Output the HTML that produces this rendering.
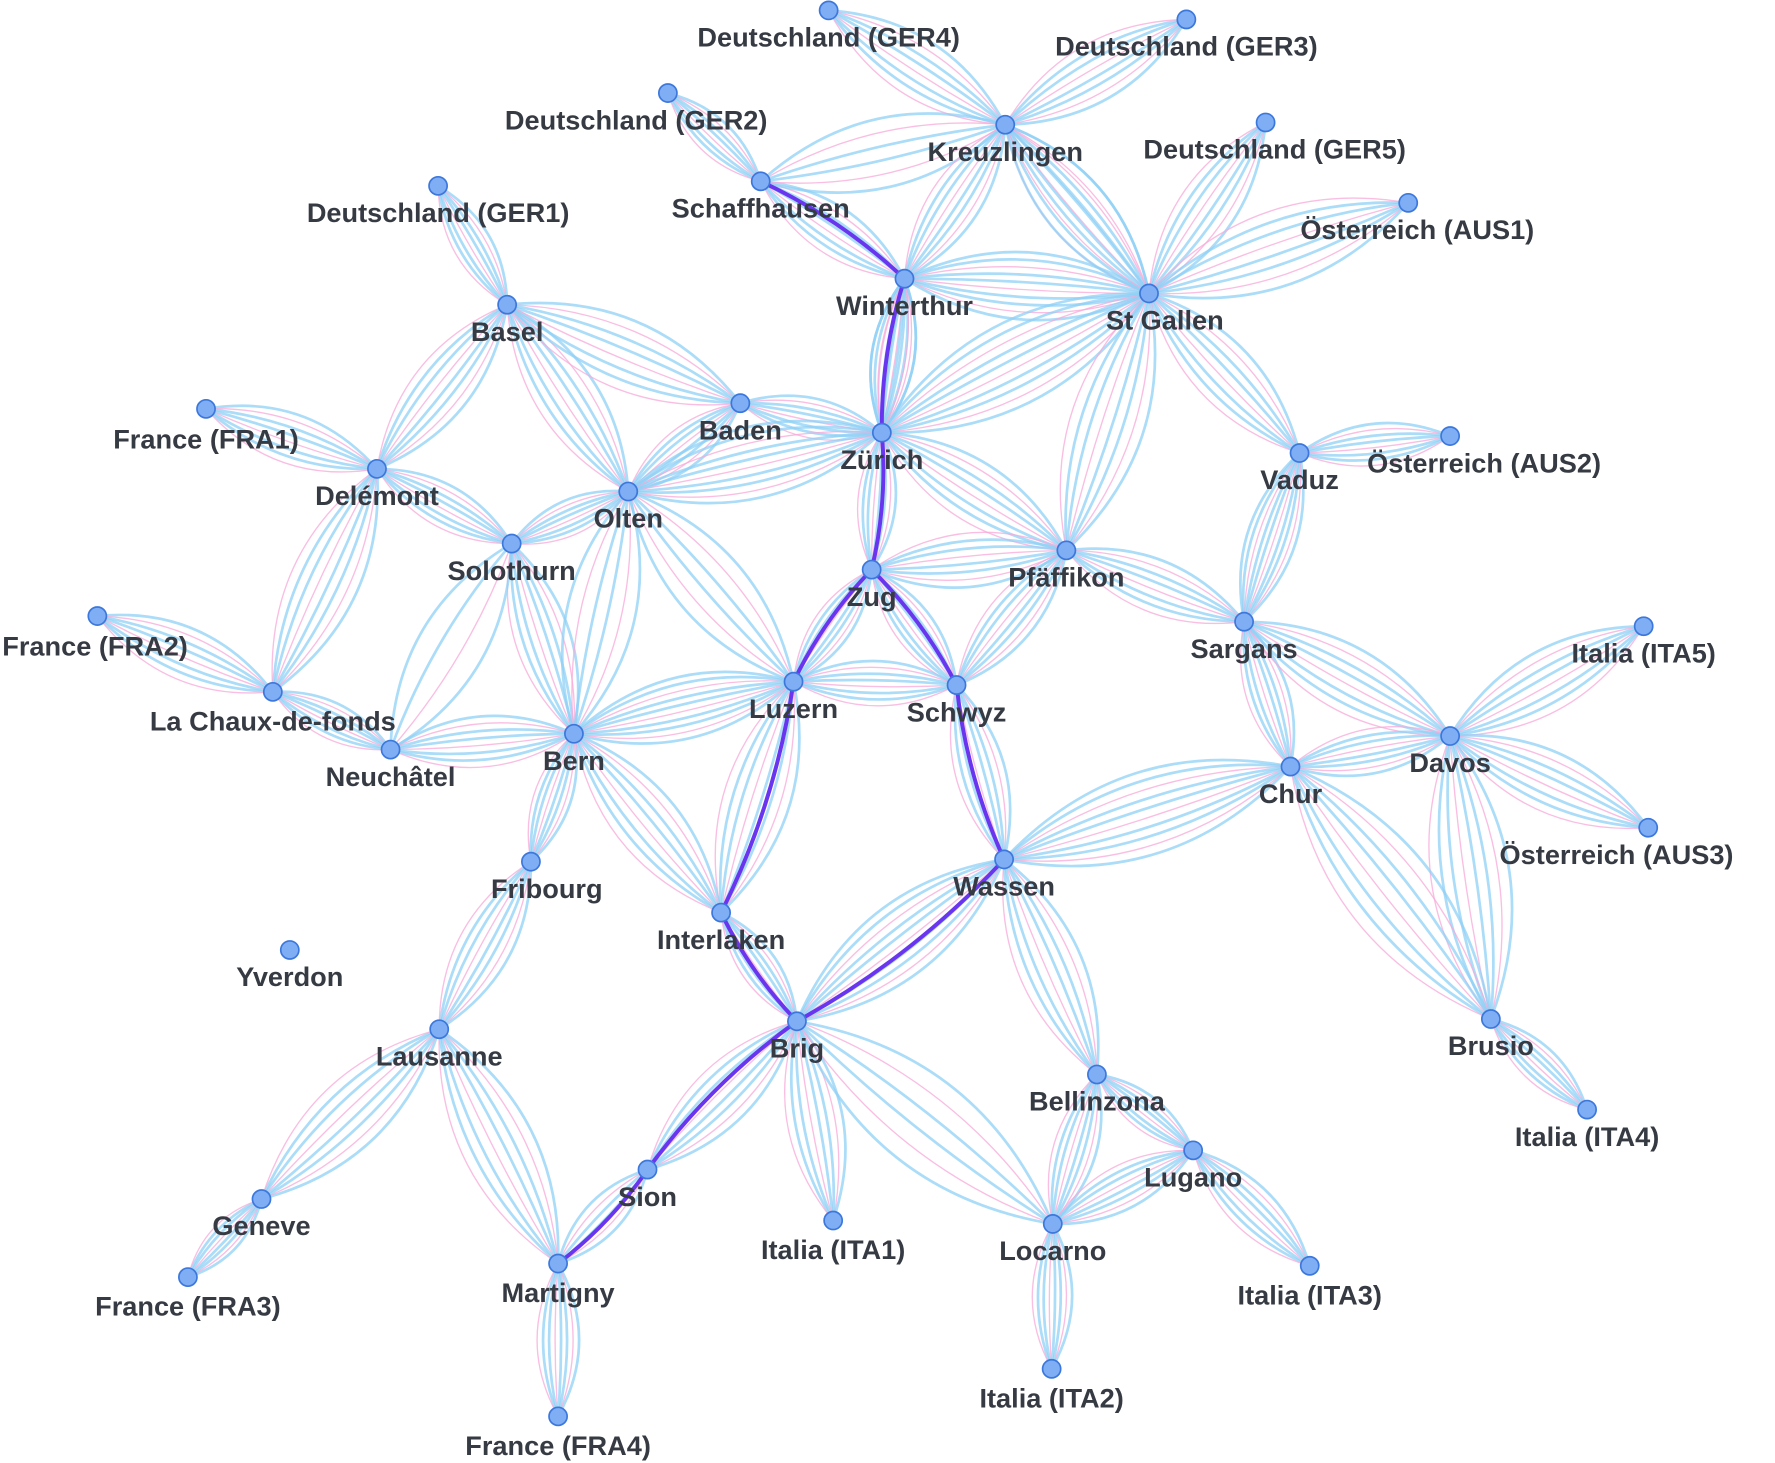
<!DOCTYPE html>
<html><head><meta charset="utf-8">
<style>
html,body{margin:0;padding:0;background:#fff;}
svg{display:block;}
text{font-family:"Liberation Sans",sans-serif;font-weight:bold;font-size:24px;fill:#363a42;}
</style></head>
<body>
<svg id="chart" width="1775" height="1463" viewBox="0 0 1568 1292" xmlns="http://www.w3.org/2000/svg">
<g id="edges"></g>
<g id="path"></g>
<g id="nodes"></g>
</svg>
<script>
const nodeNames=["Deutschland (GER4)","Deutschland (GER3)","Deutschland (GER2)","Kreuzlingen","Deutschland (GER5)","Schaffhausen","Deutschland (GER1)","Österreich (AUS1)","Winterthur","St Gallen","Basel","Baden","France (FRA1)","Zürich","Österreich (AUS2)","Vaduz","Delémont","Olten","Solothurn","Pfäffikon","Zug","France (FRA2)","Sargans","Italia (ITA5)","Luzern","Schwyz","La Chaux-de-fonds","Bern","Davos","Neuchâtel","Chur","Österreich (AUS3)","Wassen","Fribourg","Interlaken","Yverdon","Brig","Brusio","Lausanne","Bellinzona","Italia (ITA4)","Lugano","Sion","Geneve","Italia (ITA1)","Locarno","Martigny","Italia (ITA3)","France (FRA3)","Italia (ITA2)","France (FRA4)"];
const nodeX=[732,1048,590,888,1118,672,387,1244,799,1015,448,654,182,779,1281,1148,333,555,452,942,770,86,1099,1452,701,845,241,507,1281,345,1140,1456,887,469,637,256,704,1317,388,969,1402,1054,572,231,736,930,493,1157,166,929,493];
const nodeY=[9,17,82,110,108,160,164,179,246,259,269,356,361,382,385,400,414,434,480,486,503,544,549,553,602,605,611,648,650,662,677,731,759,761,806,839,902,900,909,949,980,1016,1033,1059,1078,1081,1116,1118,1128,1209,1251];
const labelDX=[0,0,-28,0,8,0,0,8,0,14,0,0,0,0,30,0,0,0,0,0,0,-6,0,0,0,0,0,0,0,0,0,-28,0,14,0,0,0,0,0,0,0,0,0,0,0,0,0,0,0,0,0];
const labelDY=[32,32,32,32,32,32,32,32,32,32,32,32,35,32,32,32,32,32,32,32,32,35,32,32,32,32,34,32,32,32,32,32,32,32,32,32,32,32,32,32,32,32,32,32,34,32,34,34,34,34,34];
const edgeFrom=[0,1,2,5,5,3,3,6,10,10,10,4,7,9,9,9,9,8,11,11,13,13,13,12,16,16,18,18,18,17,17,15,15,19,19,19,20,20,21,26,29,24,24,24,27,27,22,22,28,28,28,28,30,30,25,32,32,33,34,36,36,36,38,38,43,42,46,39,39,41,41,45,37,8,3];
const edgeTo  =[3,3,5,8,3,8,9,10,16,17,11,9,9,8,13,15,19,13,13,17,17,20,19,16,18,26,17,27,29,24,27,14,22,22,25,20,24,25,26,29,27,27,25,34,33,34,30,28,23,31,30,37,32,37,32,36,39,38,36,42,44,45,43,46,48,46,50,41,45,47,45,49,40,13,9];
const edgeCount=[8,8,8,8,6,8,8,8,8,8,8,8,8,10,10,8,8,10,8,8,10,8,8,8,8,8,8,8,4,6,6,8,10,8,8,8,8,8,8,8,8,10,8,8,8,8,8,8,8,8,8,8,10,8,8,10,8,8,8,8,8,6,8,8,8,6,8,8,8,8,8,8,8,6,6];
const routeNodes=[5,8,13,20,24,34,36];
const routeNodes2=[20,25,32,36,42,46];

const NS="http://www.w3.org/2000/svg";
const eg=document.getElementById('edges');
const pg=document.getElementById('path');
const ng=document.getElementById('nodes');
function curve(a,b,k){
  const x1=nodeX[a],y1=nodeY[a],x2=nodeX[b],y2=nodeY[b];
  const dx=x2-x1,dy=y2-y1,len=Math.hypot(dx,dy);
  const nx=-dy/len,ny=dx/len,mx=(x1+x2)/2,my=(y1+y2)/2;
  const cx=mx+nx*k*len,cy=my+ny*k*len;
  return `M${x1},${y1} Q${cx},${cy} ${x2},${y2}`;
}
for(let e=0;e<edgeFrom.length;e++){
  const n=edgeCount[e];
  for(let i=0;i<n;i++){
    const k=(i/(n-1)-0.5)*0.55;
    const pink=i%3===1;
    const p=document.createElementNS(NS,'path');
    p.setAttribute('d',curve(edgeFrom[e],edgeTo[e],k));
    p.setAttribute('fill','none');
    p.setAttribute('stroke',pink?'#f7a8d8':'#8fd0f5');
    p.setAttribute('stroke-width',pink?'1.2':'2.4');
    p.setAttribute('stroke-opacity','0.75');
    
    
    eg.appendChild(p);
  }
}
[routeNodes,routeNodes2].forEach(r=>{
  for(let i=0;i<r.length-1;i++){
    const p=document.createElementNS(NS,'path');
    p.setAttribute('d',curve(r[i],r[i+1],0.08*(i%2?1:-1)));
    p.setAttribute('fill','none');
    p.setAttribute('stroke','#6a35ee');
    p.setAttribute('stroke-width','3.5');
    
    
    pg.appendChild(p);
  }
});
for(let i=0;i<nodeNames.length;i++){
  const c=document.createElementNS(NS,'circle');
  c.setAttribute('cx',nodeX[i]);c.setAttribute('cy',nodeY[i]);c.setAttribute('r',8);
  c.setAttribute('fill','#80aef5');c.setAttribute('stroke','#3c78dc');c.setAttribute('stroke-width','1.5');
  
  
  ng.appendChild(c);
  const t=document.createElementNS(NS,'text');
  if(i===21){
    t.setAttribute('x',2);
    t.setAttribute('text-anchor','start');
  } else {
    t.setAttribute('x',nodeX[i]+labelDX[i]);
    t.setAttribute('text-anchor','middle');
  }
  t.setAttribute('y',nodeY[i]+labelDY[i]);
  t.textContent=nodeNames[i];
  
  
  ng.appendChild(t);
}
</script>
</body></html>
